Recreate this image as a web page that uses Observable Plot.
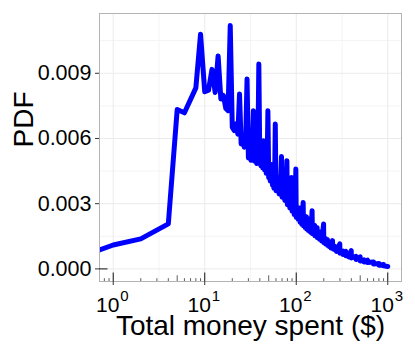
<!DOCTYPE html>
<html>
<head>
<meta charset="utf-8">
<script src="https://cdn.jsdelivr.net/npm/d3@7"></script>
<script src="https://cdn.jsdelivr.net/npm/@observablehq/plot@0.6"></script>
<style>
  html, body { margin: 0; padding: 0; background: white; }
  #chart svg { display: block; }
</style>
</head>
<body>
<div id="chart"></div>
<script>
// ---- data ----
const money = [0, 1, 2, 4, 5, 6, 8, 9, 10, 11, 12, 13, 14, 15, 16, 17, 18, 19, 20,
  21, 22, 23, 24, 25, 26, 27, 28, 29, 30, 31, 32, 33, 34, 35, 36, 37, 38, 39, 40,
  41, 42, 43, 44, 45, 46, 47, 48, 49, 50, 51, 52, 53, 54, 55, 56, 57, 58, 59, 60,
  62, 64, 65, 67, 69, 70, 72, 74, 75, 77, 79, 80, 82, 84, 85, 87, 89, 90, 92, 94,
  95, 97, 99, 100, 104, 105, 109, 110, 114, 115, 119, 120, 124, 125, 129, 130,
  134, 135, 139, 140, 144, 145, 149, 150, 159, 160, 169, 170, 179, 180, 189, 190,
  199, 200, 209, 210, 219, 220, 229, 230, 239, 240, 249, 250, 259, 260, 274, 275,
  299, 300, 324, 325, 349, 350, 374, 375, 399, 400, 449, 450, 499, 500, 549, 550,
  599, 600, 699, 700, 799, 800, 899, 900, 1000];
const pdf = [0.00087, 0.00110, 0.00138, 0.00207, 0.00733, 0.00718, 0.00833, 0.01080,
  0.00815, 0.00822, 0.00918, 0.00812, 0.00980, 0.00782, 0.00798, 0.00738, 0.00728,
  0.01120, 0.00652,
  0.00636, 0.00668, 0.00620, 0.00805, 0.00575, 0.00600, 0.00560, 0.00590, 0.00874, 0.00510,
  0.00530, 0.00500, 0.00520, 0.00728, 0.00495, 0.00515, 0.00485, 0.00505, 0.00943, 0.00490,
  0.00475, 0.00500, 0.00465, 0.00590, 0.00455, 0.00470, 0.00440, 0.00460, 0.00728, 0.00420,
  0.00430, 0.00405, 0.00420, 0.00480, 0.00385, 0.00395, 0.00372, 0.00385, 0.00667, 0.00360,
  0.00375, 0.00420, 0.00345, 0.00355, 0.00517, 0.00330, 0.00340, 0.00390, 0.00315, 0.00325,
  0.00498, 0.00295, 0.00305, 0.00345, 0.00280, 0.00290, 0.00420, 0.00265, 0.00275, 0.00310,
  0.00250, 0.00260, 0.00460, 0.00236, 0.00260, 0.00228, 0.00280, 0.00215, 0.00240, 0.00205,
  0.00306, 0.00198, 0.00220, 0.00190, 0.00240, 0.00183,
  0.00205, 0.00177, 0.00230, 0.00172, 0.00190, 0.00167, 0.00268, 0.00162, 0.00200, 0.00152,
  0.00190, 0.00143, 0.00170, 0.00136, 0.00160, 0.00128,
  0.00207, 0.00120, 0.00140, 0.00114, 0.00135, 0.00108, 0.00125, 0.00102, 0.00115, 0.00096,
  0.00130, 0.00093, 0.00105, 0.00089, 0.00100, 0.00080,
  0.00115, 0.00072, 0.00082, 0.00066, 0.00080, 0.00060, 0.00068, 0.00055, 0.00084, 0.00050,
  0.00058, 0.00043, 0.00055, 0.00036, 0.00042, 0.00032,
  0.00040, 0.00029, 0.00032, 0.00022, 0.00025, 0.00017, 0.00020, 0.00014, 0.00011];

const yTicks = [0, 0.003, 0.006, 0.009];
const yMinorGrid = [0.0015, 0.0045, 0.0075, 0.0105];
const xTicks = [1, 10, 100, 1000];
const xExponents = ["0", "1", "2", "3"];
const xMinorGrid = [3.162, 31.62, 316.2];
const logTickShort = [0.8, 0.9, 2, 3, 4, 6, 7, 8, 9, 20, 30, 40, 60, 70, 80, 90,
  200, 300, 400, 600, 700, 800, 900];
const logTickMid = [5, 50, 500];
const logTickLongY = [0];

const xDomain = [0.708, 1413];
const yDomain = [-0.00058, 0.01175];

const table = money.map((m, i) => ({money: m, pdf: pdf[i]}));

// layout
const W = 415, H = 346, mL = 99, mR = 14, mT = 13, mB = 65;
const panelW = W - mL - mR, panelH = H - mT - mB;
const font = "'Liberation Sans', Arial, Helvetica, sans-serif";

const chart = Plot.plot({
  width: W, height: H,
  marginLeft: mL, marginRight: mR, marginTop: mT, marginBottom: mB,
  x: {type: "log", domain: xDomain, axis: null},
  y: {domain: yDomain, axis: null},
  style: {fontFamily: font, background: "white", color: "black"},
  marks: [
    Plot.ruleY(yMinorGrid, {stroke: "#f4f4f4", strokeWidth: 1}),
    Plot.ruleX(xMinorGrid, {stroke: "#f4f4f4", strokeWidth: 1}),
    Plot.ruleY(yTicks, {stroke: "#ebebeb", strokeWidth: 1}),
    Plot.ruleX(xTicks, {stroke: "#ebebeb", strokeWidth: 1}),
    Plot.line(table, {
      x: d => Math.max(d.money, xDomain[0]),   // $0 sits at the panel edge, as in the original
      y: "pdf",
      stroke: "#0000ff", strokeWidth: 5,
      strokeLinejoin: "round", strokeLinecap: "round",
      clip: true
    }),
    Plot.frame({stroke: "#b3b3b3", strokeWidth: 1}),
    // log ticks inside the panel
    Plot.ruleX(logTickShort, {stroke: "#333", strokeWidth: 0.8, insetTop: panelH - 2.8}),
    Plot.ruleX(logTickMid, {stroke: "#333", strokeWidth: 0.8, insetTop: panelH - 5.7}),
    Plot.ruleX(xTicks, {stroke: "#111", strokeWidth: 1, insetTop: panelH - 8.5}),
    Plot.ruleY(logTickLongY, {stroke: "#111", strokeWidth: 1, insetRight: panelW - 8.5}),
    // axes
    Plot.axisY(yTicks, {
      tickFormat: d3.format(".3f"), tickSize: 4, tickPadding: 4,
      fontSize: 21.5, label: null, stroke: "#333", fill: "black"
    }),
    Plot.axisX(xTicks, {tickSize: 4, tickFormat: () => "", label: null, stroke: "#333"}),
    Plot.text(xTicks, {
      x: d => d, text: () => "10", frameAnchor: "bottom", lineAnchor: "bottom",
      dy: 30.5, dx: -5.6, fontSize: 21, fill: "black"
    }),
    Plot.text(xTicks, {
      x: d => d, text: (d, i) => xExponents[i], frameAnchor: "bottom", lineAnchor: "bottom",
      dy: 19, dx: 11.2, fontSize: 15, fill: "black"
    }),
    Plot.text(["Total money spent ($)"], {
      text: d => d, frameAnchor: "bottom", lineAnchor: "bottom",
      dy: 53.5, fontSize: 28, fill: "black"
    }),
    Plot.text(["PDF"], {
      text: d => d, frameAnchor: "left", lineAnchor: "bottom", rotate: -90,
      dx: -67, fontSize: 28, fill: "black"
    })
  ]
});
document.getElementById("chart").appendChild(chart);
</script>
</body>
</html>
